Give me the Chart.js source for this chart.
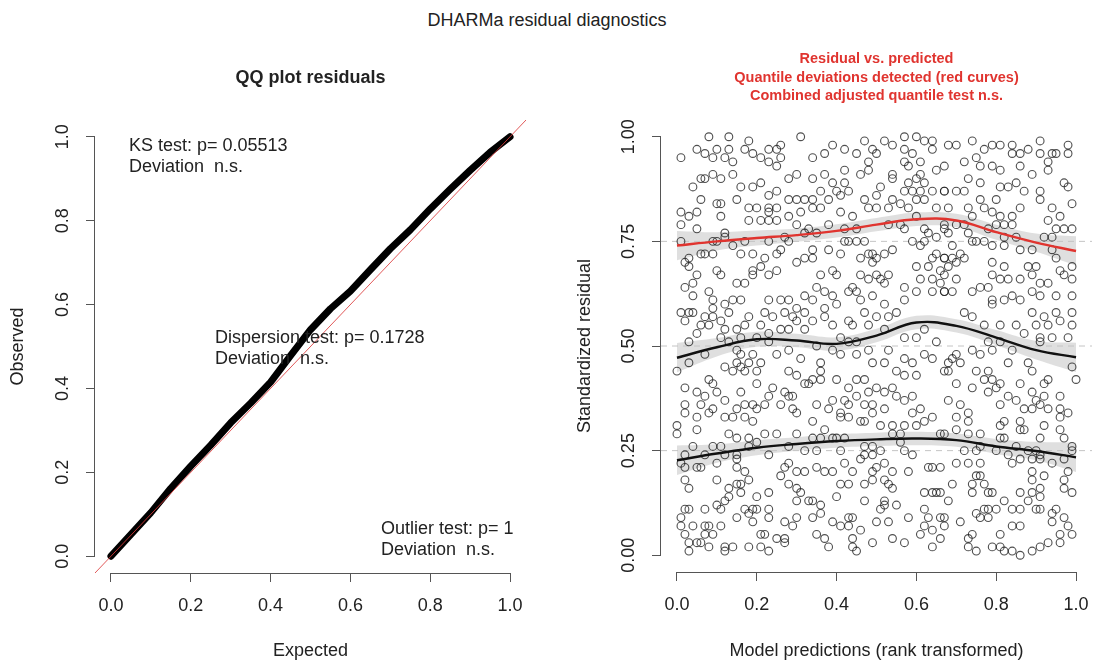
<!DOCTYPE html>
<html>
<head>
<meta charset="utf-8">
<script src="https://cdn.jsdelivr.net/npm/chart.js@4.4.1/dist/chart.umd.min.js"></script>
<style>
  body { margin: 0; background: #fff; }
  #wrap { position: relative; width: 1094px; height: 662px; font-family: "Liberation Sans", Arial, sans-serif; }
  #main { position: absolute; left: 0; top: 10px; width: 1094px; text-align: center; font-size: 18px; line-height: 20px; color: #222; }
  canvas { position: absolute; top: 0; }
</style>
</head>
<body>
<div id="wrap">
  <div id="main">DHARMa residual diagnostics</div>
  <canvas id="qq__chart" width="547" height="662" style="left:0"></canvas>
  <canvas id="res__chart" width="547" height="662" style="left:547px"></canvas>
</div>
<script>
const FONT = '"Liberation Sans", Arial, sans-serif'
Chart.defaults.font.family = FONT
Chart.defaults.color = '#222'

// QQ plot
const qqTicks = [0, 0.2, 0.4, 0.6, 0.8, 1.0]
const qqExpected = [0, 0.05, 0.1, 0.15, 0.2, 0.25, 0.3, 0.35, 0.4, 0.45, 0.5, 0.55, 0.6, 0.65, 0.7, 0.75, 0.8, 0.85, 0.9, 0.95, 1.0]
const qqObserved = [0, 0.052, 0.104, 0.162, 0.215, 0.265, 0.318, 0.365, 0.415, 0.478, 0.54, 0.59, 0.632, 0.683, 0.733, 0.778, 0.828, 0.875, 0.92, 0.963, 1.0]
const qqDiagonal = [-0.04, 1.04]
const qqNotes = [
    ['KS test: p= 0.05513', 'Deviation  n.s.'],
    ['Dispersion test: p= 0.1728', 'Deviation  n.s.'],
    ['Outlier test: p= 1', 'Deviation  n.s.']
]

// residual vs predicted
const resXTicks = [0, 0.2, 0.4, 0.6, 0.8, 1.0]
const resYTicks = [0, 0.25, 0.5, 0.75, 1.0]
const quantileLevels = [0.25, 0.5, 0.75]
const curveX = [0, 0.1, 0.2, 0.3, 0.4, 0.5, 0.6, 0.7, 0.8, 0.9, 1.0]
const q25 = [0.227, 0.243, 0.257, 0.266, 0.273, 0.277, 0.279, 0.275, 0.26, 0.249, 0.234]
const q50 = [0.472, 0.497, 0.516, 0.513, 0.505, 0.525, 0.556, 0.548, 0.52, 0.49, 0.473]
const q75 = [0.74, 0.75, 0.758, 0.765, 0.775, 0.79, 0.803, 0.8, 0.772, 0.747, 0.727]
const bandHalf = [0.035, 0.022, 0.018, 0.016, 0.016, 0.016, 0.016, 0.016, 0.018, 0.022, 0.035]
const resTitle = ['Residual vs. predicted', 'Quantile deviations detected (red curves)', 'Combined adjusted quantile test n.s.']

const residualPoints = [
    // top left
    [0.08,1.00],[0.13,1.00],[0.18,0.99],[0.26,0.98],[0.31,1.00],[0.05,0.97],[0.07,0.96],[0.10,0.97],[0.13,0.97],[0.17,0.97],
    [0.19,0.96],[0.23,0.97],[0.25,0.97],[0.01,0.95],[0.09,0.95],[0.12,0.95],[0.14,0.94],[0.21,0.95],[0.23,0.94],[0.26,0.95],
    [0.25,0.93],[0.28,0.90],[0.30,0.91],[0.06,0.90],[0.07,0.90],[0.09,0.91],[0.11,0.90],[0.14,0.91],[0.04,0.88],[0.16,0.88],
    [0.19,0.88],[0.21,0.89],[0.23,0.86],[0.25,0.87],[0.28,0.85],[0.30,0.85],[0.32,0.85],[0.06,0.85],[0.10,0.84],[0.11,0.84],
    [0.15,0.85],[0.18,0.83],[0.20,0.83],[0.23,0.83],[0.23,0.82],[0.25,0.83],[0.31,0.82],[0.01,0.82],[0.03,0.81],[0.05,0.82],
    [0.01,0.79],[0.11,0.81],[0.18,0.80],[0.21,0.80],[0.23,0.80],[0.25,0.80],[0.28,0.81],[0.30,0.79],[0.05,0.78],[0.12,0.77],
    [0.09,0.75],[0.10,0.75],[0.12,0.76],[0.14,0.74],[0.01,0.75],[0.17,0.75],[0.23,0.75],[0.27,0.76],[0.32,0.77],[0.03,0.71],
    [0.06,0.72],[0.07,0.72],[0.09,0.72],[0.16,0.72],[0.19,0.72],[0.22,0.71],[0.25,0.72],[0.26,0.73],[0.28,0.75],[0.30,0.70],
    [0.32,0.71],[0.02,0.70],[0.03,0.69],[0.05,0.67],[0.04,0.65],[0.10,0.68],[0.11,0.67],[0.15,0.65],[0.17,0.65],[0.19,0.68],
    [0.19,0.67],[0.21,0.69],[0.23,0.67],[0.25,0.68],[0.04,0.62],[0.02,0.64],[0.08,0.63],[0.09,0.61],[0.09,0.59],[0.12,0.60],
    [0.14,0.61],[0.16,0.61],[0.23,0.61],[0.26,0.61],[0.28,0.61],[0.30,0.59],[0.32,0.62],[0.01,0.58],[0.03,0.58],[0.04,0.58],
    [0.07,0.57],[0.09,0.57],[0.11,0.56],[0.13,0.58],[0.02,0.56],[0.06,0.55],[0.08,0.55],[0.22,0.58],[0.24,0.57],[0.27,0.58],
    [0.29,0.57],[0.30,0.56],[0.32,0.58],[0.18,0.57],[0.21,0.55],[0.15,0.54],[0.12,0.54],[0.17,0.55],[0.23,0.53],[0.26,0.54],
    [0.28,0.54],[0.32,0.54],[0.11,0.52],[0.13,0.51],[0.16,0.52],[0.20,0.52],[0.23,0.51],[0.05,0.53],[0.03,0.51],
    // top middle
    [0.34,0.95],[0.37,0.96],[0.39,0.98],[0.42,0.97],[0.45,0.96],[0.47,0.99],[0.49,0.97],[0.50,0.96],[0.52,0.99],[0.54,0.98],
    [0.57,1.00],[0.60,1.00],[0.62,0.99],[0.64,0.99],[0.64,0.97],[0.57,0.97],[0.59,0.96],[0.57,0.94],[0.58,0.93],[0.61,0.94],
    [0.61,0.91],[0.65,0.92],[0.60,0.90],[0.62,0.89],[0.34,0.90],[0.37,0.91],[0.39,0.89],[0.42,0.92],[0.46,0.91],[0.48,0.92],
    [0.48,0.94],[0.42,0.89],[0.40,0.87],[0.38,0.85],[0.36,0.87],[0.34,0.85],[0.41,0.86],[0.43,0.87],[0.47,0.85],[0.50,0.86],
    [0.51,0.88],[0.54,0.91],[0.54,0.90],[0.57,0.87],[0.58,0.89],[0.59,0.87],[0.61,0.87],[0.64,0.87],[0.67,0.87],[0.34,0.83],
    [0.36,0.83],[0.41,0.82],[0.44,0.81],[0.48,0.83],[0.50,0.83],[0.53,0.83],[0.54,0.85],[0.56,0.84],[0.58,0.83],[0.60,0.85],
    [0.62,0.85],[0.65,0.83],[0.38,0.79],[0.33,0.78],[0.35,0.77],[0.42,0.78],[0.45,0.78],[0.53,0.79],[0.56,0.79],[0.60,0.81],
    [0.57,0.78],[0.62,0.78],[0.63,0.77],[0.65,0.76],[0.67,0.78],[0.42,0.75],[0.43,0.75],[0.45,0.75],[0.47,0.75],[0.34,0.73],
    [0.34,0.71],[0.38,0.73],[0.41,0.72],[0.46,0.71],[0.48,0.72],[0.49,0.72],[0.50,0.71],[0.52,0.72],[0.54,0.73],[0.49,0.70],
    [0.59,0.75],[0.61,0.74],[0.62,0.75],[0.64,0.71],[0.65,0.72],[0.67,0.71],[0.60,0.69],[0.63,0.69],[0.66,0.68],[0.36,0.67],
    [0.39,0.68],[0.40,0.67],[0.46,0.67],[0.50,0.67],[0.51,0.66],[0.53,0.67],[0.48,0.66],[0.52,0.65],[0.61,0.66],[0.64,0.66],
    [0.66,0.65],[0.35,0.64],[0.37,0.63],[0.34,0.61],[0.39,0.62],[0.43,0.63],[0.45,0.63],[0.46,0.61],[0.44,0.64],[0.49,0.62],
    [0.52,0.60],[0.57,0.64],[0.57,0.61],[0.60,0.63],[0.64,0.63],[0.67,0.63],[0.37,0.59],[0.40,0.60],[0.37,0.57],[0.34,0.56],
    [0.39,0.55],[0.43,0.56],[0.44,0.55],[0.47,0.58],[0.50,0.57],[0.53,0.57],[0.55,0.58],[0.48,0.55],[0.52,0.54],[0.41,0.52],
    [0.43,0.51],[0.45,0.51],[0.62,0.54],[0.60,0.52],[0.57,0.52],[0.65,0.51],
    // top right
    [0.68,0.98],[0.70,0.98],[0.74,0.99],[0.77,0.97],[0.79,0.98],[0.81,0.98],[0.84,0.98],[0.86,0.96],[0.88,0.97],[0.91,0.99],
    [0.94,0.96],[0.95,0.96],[0.98,0.98],[0.98,0.96],[0.72,0.94],[0.75,0.95],[0.76,0.93],[0.79,0.93],[0.81,0.92],[0.84,0.96],
    [0.86,0.93],[0.89,0.91],[0.91,0.96],[0.93,0.94],[0.93,0.92],[0.97,0.89],[0.98,0.88],[0.67,0.93],[0.67,0.87],[0.70,0.87],
    [0.72,0.87],[0.73,0.90],[0.76,0.89],[0.81,0.88],[0.83,0.88],[0.85,0.89],[0.87,0.87],[0.91,0.87],[0.91,0.85],[0.99,0.84],
    [0.68,0.83],[0.73,0.83],[0.76,0.85],[0.77,0.83],[0.80,0.85],[0.79,0.82],[0.81,0.81],[0.84,0.81],[0.86,0.83],[0.94,0.83],
    [0.96,0.81],[0.93,0.80],[0.67,0.79],[0.70,0.79],[0.72,0.79],[0.74,0.81],[0.80,0.79],[0.82,0.79],[0.84,0.79],[0.95,0.78],
    [0.97,0.78],[0.99,0.78],[0.68,0.77],[0.73,0.77],[0.78,0.78],[0.82,0.76],[0.85,0.76],[0.92,0.76],[0.94,0.76],[0.69,0.74],
    [0.74,0.75],[0.75,0.75],[0.77,0.75],[0.79,0.74],[0.82,0.74],[0.86,0.73],[0.89,0.73],[0.95,0.71],[0.94,0.73],[0.67,0.71],
    [0.69,0.71],[0.71,0.72],[0.72,0.71],[0.68,0.69],[0.70,0.70],[0.79,0.70],[0.82,0.69],[0.88,0.69],[0.90,0.69],[0.89,0.67],
    [0.96,0.68],[0.99,0.69],[0.67,0.67],[0.70,0.66],[0.79,0.67],[0.81,0.66],[0.83,0.66],[0.86,0.66],[0.97,0.67],[0.99,0.66],
    [0.67,0.63],[0.69,0.63],[0.74,0.63],[0.76,0.64],[0.78,0.64],[0.79,0.61],[0.79,0.60],[0.82,0.61],[0.84,0.62],[0.86,0.61],
    [0.89,0.63],[0.91,0.65],[0.93,0.65],[0.91,0.62],[0.95,0.62],[0.99,0.62],[0.72,0.58],[0.74,0.57],[0.77,0.55],[0.81,0.55],
    [0.85,0.55],[0.89,0.58],[0.90,0.55],[0.92,0.57],[0.95,0.58],[0.93,0.55],[0.96,0.56],[0.99,0.58],[0.99,0.55],[0.78,0.51],
    [0.81,0.51],[0.87,0.53],[0.91,0.52],[0.94,0.52],[0.91,0.51],[0.98,0.52],
    // bottom left
    [0.00,0.44],[0.03,0.46],[0.07,0.48],[0.12,0.45],[0.15,0.49],[0.16,0.48],[0.19,0.48],[0.15,0.46],[0.16,0.45],[0.18,0.46],
    [0.14,0.44],[0.17,0.44],[0.20,0.44],[0.21,0.46],[0.25,0.48],[0.28,0.49],[0.31,0.47],[0.28,0.44],[0.30,0.43],[0.32,0.41],
    [0.08,0.42],[0.09,0.41],[0.20,0.41],[0.02,0.40],[0.05,0.39],[0.07,0.38],[0.10,0.39],[0.12,0.37],[0.16,0.39],[0.24,0.40],
    [0.27,0.39],[0.28,0.38],[0.29,0.38],[0.23,0.38],[0.26,0.36],[0.29,0.35],[0.30,0.34],[0.02,0.36],[0.06,0.36],[0.08,0.34],
    [0.09,0.35],[0.02,0.34],[0.05,0.33],[0.12,0.33],[0.15,0.35],[0.17,0.36],[0.19,0.36],[0.20,0.35],[0.22,0.36],[0.14,0.33],
    [0.17,0.33],[0.19,0.32],[0.00,0.31],[0.05,0.30],[0.00,0.29],[0.13,0.29],[0.15,0.28],[0.18,0.28],[0.20,0.27],[0.22,0.29],
    [0.25,0.29],[0.30,0.29],[0.09,0.26],[0.11,0.26],[0.18,0.26],[0.28,0.26],[0.32,0.25],[0.04,0.26],[0.02,0.24],[0.07,0.24],
    [0.10,0.22],[0.12,0.24],[0.15,0.24],[0.23,0.24],[0.01,0.22],[0.02,0.21],[0.05,0.21],[0.06,0.21],[0.15,0.23],[0.15,0.21],
    [0.17,0.20],[0.28,0.22],[0.27,0.21],[0.26,0.19],[0.30,0.20],[0.32,0.20],[0.02,0.18],[0.03,0.16],[0.10,0.18],[0.13,0.16],
    [0.15,0.17],[0.16,0.17],[0.13,0.14],[0.16,0.15],[0.18,0.18],[0.23,0.15],[0.28,0.17],[0.30,0.16],[0.31,0.15],[0.30,0.13],
    [0.33,0.13],[0.02,0.11],[0.03,0.11],[0.01,0.09],[0.04,0.07],[0.01,0.07],[0.07,0.11],[0.10,0.12],[0.11,0.11],[0.12,0.13],
    [0.17,0.11],[0.19,0.11],[0.18,0.10],[0.20,0.11],[0.23,0.11],[0.20,0.14],[0.15,0.09],[0.19,0.08],[0.23,0.09],[0.27,0.08],
    [0.30,0.09],[0.29,0.07],[0.07,0.07],[0.08,0.07],[0.11,0.07],[0.02,0.05],[0.03,0.03],[0.07,0.05],[0.05,0.03],[0.06,0.03],
    [0.09,0.05],[0.08,0.02],[0.12,0.02],[0.14,0.02],[0.18,0.02],[0.21,0.05],[0.22,0.05],[0.21,0.02],[0.25,0.04],[0.27,0.04],
    [0.27,0.03],[0.23,0.01],[0.12,0.01],[0.03,0.01],
    // bottom middle
    [0.35,0.50],[0.39,0.49],[0.41,0.48],[0.45,0.48],[0.48,0.49],[0.53,0.49],[0.62,0.48],[0.64,0.47],[0.57,0.47],[0.59,0.46],
    [0.49,0.46],[0.52,0.46],[0.36,0.46],[0.36,0.44],[0.34,0.42],[0.36,0.42],[0.33,0.41],[0.40,0.42],[0.45,0.42],[0.47,0.42],
    [0.55,0.44],[0.57,0.43],[0.60,0.43],[0.67,0.44],[0.43,0.40],[0.48,0.39],[0.50,0.40],[0.52,0.39],[0.54,0.40],[0.42,0.37],
    [0.45,0.38],[0.55,0.38],[0.57,0.37],[0.59,0.38],[0.35,0.36],[0.39,0.37],[0.38,0.35],[0.41,0.34],[0.43,0.36],[0.47,0.36],
    [0.49,0.36],[0.52,0.35],[0.61,0.35],[0.59,0.34],[0.64,0.33],[0.34,0.32],[0.41,0.33],[0.43,0.33],[0.46,0.32],[0.47,0.32],
    [0.49,0.34],[0.51,0.31],[0.54,0.31],[0.57,0.31],[0.60,0.31],[0.62,0.32],[0.37,0.30],[0.34,0.28],[0.36,0.28],[0.39,0.28],
    [0.40,0.28],[0.42,0.28],[0.54,0.29],[0.56,0.29],[0.56,0.27],[0.66,0.29],[0.35,0.25],[0.41,0.25],[0.47,0.26],[0.49,0.26],
    [0.51,0.25],[0.57,0.25],[0.59,0.24],[0.46,0.23],[0.47,0.24],[0.49,0.24],[0.42,0.22],[0.52,0.22],[0.35,0.21],[0.37,0.20],
    [0.39,0.20],[0.44,0.20],[0.49,0.20],[0.50,0.21],[0.54,0.20],[0.58,0.20],[0.63,0.21],[0.64,0.21],[0.66,0.21],[0.41,0.17],
    [0.43,0.17],[0.47,0.17],[0.49,0.18],[0.52,0.18],[0.53,0.17],[0.54,0.16],[0.62,0.15],[0.64,0.15],[0.65,0.15],[0.66,0.15],
    [0.34,0.13],[0.40,0.14],[0.47,0.13],[0.52,0.13],[0.55,0.12],[0.36,0.12],[0.36,0.10],[0.34,0.09],[0.39,0.08],[0.43,0.09],
    [0.44,0.09],[0.51,0.11],[0.52,0.12],[0.53,0.08],[0.58,0.09],[0.62,0.11],[0.63,0.09],[0.66,0.09],[0.50,0.08],[0.41,0.07],
    [0.43,0.07],[0.46,0.06],[0.35,0.05],[0.37,0.04],[0.38,0.02],[0.44,0.04],[0.44,0.02],[0.45,0.01],[0.49,0.03],[0.54,0.04],
    [0.57,0.03],[0.61,0.05],[0.62,0.07],[0.64,0.06],[0.64,0.02],[0.66,0.04],
    // bottom right
    [0.68,0.46],[0.69,0.47],[0.70,0.48],[0.71,0.46],[0.68,0.44],[0.74,0.49],[0.76,0.48],[0.79,0.49],[0.84,0.49],[0.83,0.46],
    [0.88,0.46],[0.89,0.44],[0.99,0.45],[1.00,0.42],[0.75,0.44],[0.78,0.44],[0.70,0.41],[0.74,0.40],[0.77,0.42],[0.79,0.42],
    [0.80,0.40],[0.78,0.39],[0.81,0.41],[0.86,0.41],[0.89,0.39],[0.92,0.41],[0.93,0.42],[0.92,0.38],[0.96,0.38],[0.68,0.37],
    [0.71,0.36],[0.83,0.38],[0.85,0.37],[0.90,0.37],[0.81,0.36],[0.87,0.35],[0.89,0.35],[0.91,0.36],[0.93,0.35],[0.96,0.35],
    [0.98,0.34],[0.70,0.33],[0.73,0.34],[0.73,0.32],[0.82,0.32],[0.81,0.31],[0.86,0.32],[0.92,0.31],[0.96,0.33],[0.70,0.30],
    [0.73,0.29],[0.76,0.29],[0.86,0.30],[0.87,0.30],[0.96,0.30],[0.67,0.29],[0.82,0.28],[0.81,0.28],[0.91,0.28],[0.97,0.28],
    [0.72,0.25],[0.75,0.25],[0.76,0.26],[0.80,0.25],[0.83,0.24],[0.85,0.26],[0.88,0.25],[0.90,0.25],[0.91,0.24],[0.99,0.26],
    [0.99,0.25],[0.70,0.22],[0.73,0.22],[0.76,0.22],[0.84,0.22],[0.86,0.23],[0.89,0.23],[0.91,0.23],[0.94,0.22],[0.97,0.23],
    [0.75,0.19],[0.76,0.19],[0.74,0.17],[0.77,0.17],[0.79,0.15],[0.78,0.15],[0.69,0.17],[0.74,0.15],[0.89,0.20],[0.89,0.18],
    [0.92,0.19],[0.98,0.20],[0.97,0.18],[0.97,0.16],[0.99,0.15],[0.86,0.15],[0.89,0.15],[0.91,0.16],[0.91,0.14],[0.68,0.13],
    [0.82,0.13],[0.84,0.11],[0.86,0.11],[0.88,0.13],[0.90,0.11],[0.91,0.11],[0.95,0.11],[0.75,0.10],[0.77,0.11],[0.78,0.11],
    [0.76,0.09],[0.78,0.09],[0.80,0.11],[0.67,0.09],[0.71,0.08],[0.94,0.10],[0.94,0.08],[0.97,0.09],[0.67,0.07],[0.74,0.05],
    [0.73,0.04],[0.73,0.02],[0.75,0.01],[0.79,0.02],[0.81,0.02],[0.81,0.05],[0.84,0.07],[0.86,0.07],[0.82,0.01],[0.84,0.01],
    [0.86,0.00],[0.89,0.01],[0.91,0.02],[0.93,0.03],[0.96,0.03],[0.96,0.05],[0.98,0.07],[0.99,0.05]
]

const AXIS_COLOR = '#555'
const RED = '#e0342f'

// R style axes: line only between first and last tick, y labels parallel to the axis
function rAxesPlugin(yDigits) {
    return {
        id: 'rAxes',
        afterDraw(chart) {
            const ctx = chart.ctx
            const area = chart.chartArea
            const xs = chart.scales.x
            const ys = chart.scales.y
            const xt = xs.ticks.map(t => t.value)
            const yt = ys.ticks.map(t => t.value)
            ctx.save()
            ctx.strokeStyle = AXIS_COLOR
            ctx.lineWidth = 1
            ctx.beginPath()
            const bx = Math.round(area.bottom) + 0.5
            ctx.moveTo(xs.getPixelForValue(xt[0]), bx)
            ctx.lineTo(xs.getPixelForValue(xt[xt.length - 1]), bx)
            const lx = Math.round(area.left) - 0.5
            ctx.moveTo(lx, ys.getPixelForValue(yt[0]))
            ctx.lineTo(lx, ys.getPixelForValue(yt[yt.length - 1]))
            ctx.stroke()

            ctx.fillStyle = '#222'
            ctx.font = '18px ' + FONT
            ctx.textAlign = 'center'
            ctx.textBaseline = 'middle'
            yt.forEach(v => {
                ctx.save()
                ctx.translate(area.left - 32, ys.getPixelForValue(v))
                ctx.rotate(-Math.PI / 2)
                ctx.fillText(v.toFixed(yDigits), 0, 0)
                ctx.restore()
            })
            ctx.restore()
        }
    }
}

const qqTextPlugin = {
    id: 'qqText',
    afterDraw(chart) {
        const ctx = chart.ctx
        const area = chart.chartArea
        ctx.save()
        ctx.fillStyle = '#222'
        ctx.textBaseline = 'middle'
        ctx.textAlign = 'center'
        ctx.font = 'bold 18px ' + FONT
        ctx.fillText('QQ plot residuals', (area.left + area.right) / 2, 78)
        ctx.textAlign = 'left'
        ctx.font = '18px ' + FONT
        const spots = [[area.left + 34, 146], [area.left + 120, 338], [area.left + 286, 529]]
        qqNotes.forEach((lines, i) => {
            lines.forEach((t, j) => ctx.fillText(t, spots[i][0], spots[i][1] + j * 21))
        })
        ctx.restore()
    }
}

const resTextPlugin = {
    id: 'resText',
    afterDraw(chart) {
        const ctx = chart.ctx
        const area = chart.chartArea
        ctx.save()
        ctx.fillStyle = RED
        ctx.textAlign = 'center'
        ctx.textBaseline = 'middle'
        ctx.font = 'bold 14.5px ' + FONT
        resTitle.forEach((t, i) => ctx.fillText(t, (area.left + area.right) / 2, 59 + i * 18.5))
        ctx.restore()
    }
}

function fixedTicks(list) {
    return (scale) => { scale.ticks = list.map(v => ({ value: v })) }
}

function baseScales(xTicks, yTicks, yTitle, yTitlePad, xHeight, yWidth, xTitle) {
    return {
        x: {
            type: 'linear', min: -0.04, max: 1.04,
            afterBuildTicks: fixedTicks(xTicks),
            afterFit: (s) => { s.height = xHeight; s.paddingLeft = 0; s.paddingRight = 0 },
            border: { display: false },
            grid: { drawOnChartArea: false, drawTicks: true, tickLength: 9, color: AXIS_COLOR },
            ticks: { padding: 13, font: { size: 18 }, color: '#222', maxRotation: 0, callback: (v) => v.toFixed(1) },
            title: { display: true, text: xTitle, font: { size: 18 }, color: '#222', padding: { top: 0, bottom: 0 } }
        },
        y: {
            type: 'linear', min: -0.04, max: 1.04,
            afterBuildTicks: fixedTicks(yTicks),
            afterFit: (s) => { s.width = yWidth; s.paddingTop = 0; s.paddingBottom = 0 },
            border: { display: false },
            grid: { drawOnChartArea: false, drawTicks: true, tickLength: 9, color: AXIS_COLOR },
            ticks: { display: false },
            title: { display: true, text: yTitle, font: { size: 18 }, color: '#222', padding: { top: yTitlePad, bottom: 0 } }
        }
    }
}

const commonOptions = {
    responsive: false,
    animation: false,
    events: [],
    plugins: { legend: { display: false }, tooltip: { enabled: false } }
}

new Chart(document.getElementById('qq__chart'), {
    type: 'line',
    data: {
        datasets: [
            {
                data: qqDiagonal.map(v => ({ x: v, y: v })),
                borderColor: 'rgba(220, 60, 60, 0.85)',
                borderWidth: 1,
                pointRadius: 0,
                order: 0
            },
            {
                data: qqExpected.map((x, i) => ({ x: x, y: qqObserved[i] })),
                borderColor: '#000',
                borderWidth: 7,
                borderCapStyle: 'round',
                borderJoinStyle: 'round',
                pointRadius: 0,
                tension: 0,
                order: 1
            }
        ]
    },
    options: {
        ...commonOptions,
        layout: { autoPadding: false, padding: { left: 0, right: 21, top: 120, bottom: 0 } },
        scales: baseScales(qqTicks, qqTicks, 'Observed', 7, 89, 95, 'Expected')
    },
    plugins: [rAxesPlugin(1), qqTextPlugin]
})

const resDatasets = []
const bandColor = 'rgba(185, 185, 185, 0.45)'
;[q25, q50, q75].forEach(q => {
    resDatasets.push({
        data: curveX.map((x, i) => ({ x: x, y: q[i] - bandHalf[i] })),
        borderWidth: 0, pointRadius: 0, tension: 0.4, fill: false, order: 6
    })
    resDatasets.push({
        data: curveX.map((x, i) => ({ x: x, y: q[i] + bandHalf[i] })),
        borderWidth: 0, pointRadius: 0, tension: 0.4, fill: '-1', backgroundColor: bandColor, order: 6
    })
})
quantileLevels.forEach(level => {
    resDatasets.push({
        data: [{ x: -0.04, y: level }, { x: 1.04, y: level }],
        borderColor: '#c4c4c4', borderWidth: 1, borderDash: [6, 5], pointRadius: 0, order: 5
    })
})
resDatasets.push({
    data: residualPoints.map(p => ({ x: p[0], y: p[1] })),
    showLine: false,
    pointRadius: 3.9,
    pointBorderWidth: 1.1,
    pointBorderColor: 'rgba(30, 30, 30, 0.78)',
    pointBackgroundColor: 'rgba(0, 0, 0, 0)',
    order: 4
})
;[[q25, '#111'], [q50, '#111'], [q75, RED]].forEach(([q, color]) => {
    resDatasets.push({
        data: curveX.map((x, i) => ({ x: x, y: q[i] })),
        borderColor: color, borderWidth: 2.4, pointRadius: 0, tension: 0.4, order: 1
    })
})

new Chart(document.getElementById('res__chart'), {
    type: 'line',
    data: { datasets: resDatasets },
    options: {
        ...commonOptions,
        layout: { autoPadding: false, padding: { left: 0, right: 2, top: 120, bottom: 0 } },
        scales: baseScales(resXTicks, resYTicks, 'Standardized residual', 27, 90, 114, 'Model predictions (rank transformed)')
    },
    plugins: [rAxesPlugin(2), resTextPlugin]
})
</script>
</body>
</html>
